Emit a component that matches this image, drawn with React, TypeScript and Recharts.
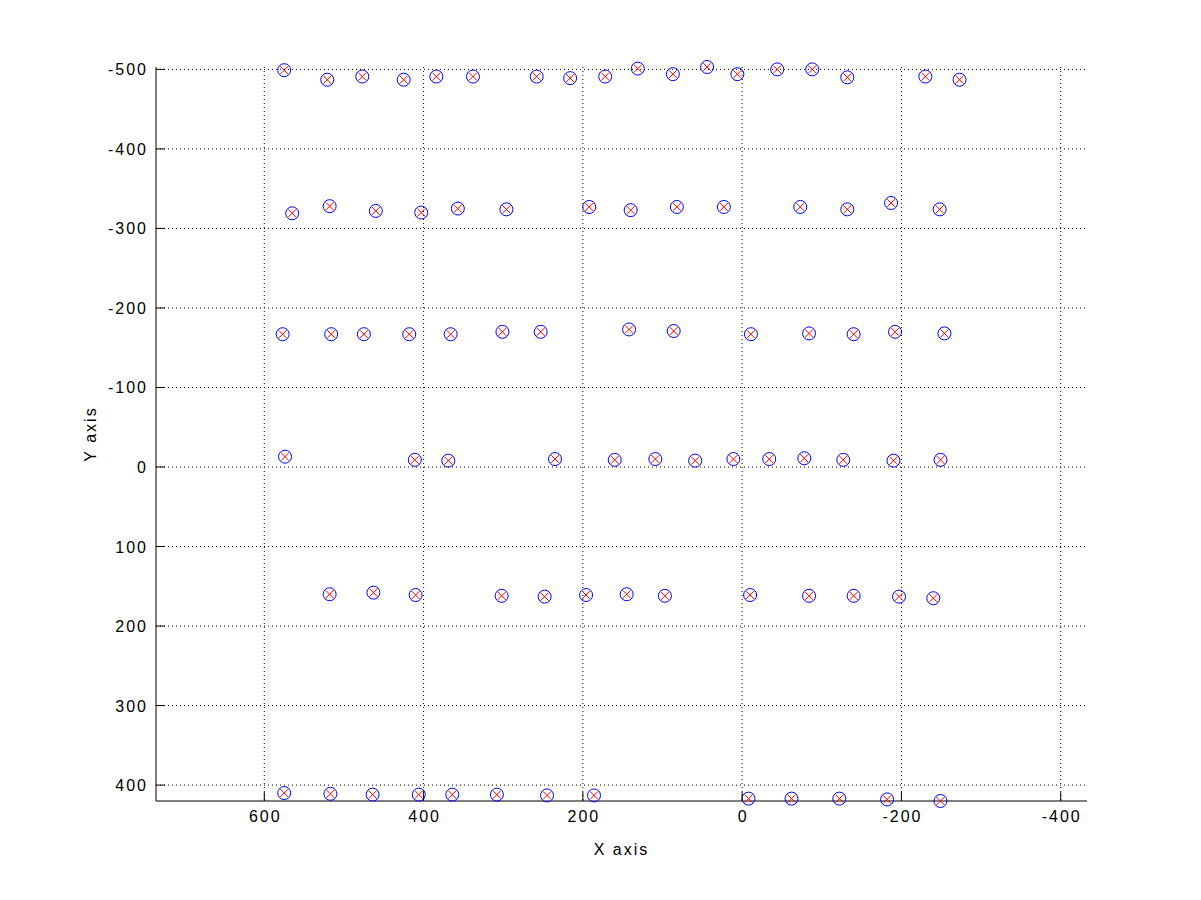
import React from "react";
import { ScatterChart, Scatter, XAxis, YAxis, CartesianGrid } from "recharts";

const row1X = [575, 521, 477, 425, 384, 338, 258, 216, 172, 131, 87, 44, 6, -44, -88, -132, -230, -273];
const row1Y = [-499, -487, -491, -487, -491, -491, -491, -489, -491, -501, -494, -503, -494, -500, -500, -490, -491, -487];
const row2X = [565, 518, 460, 403, 357, 296, 192, 140, 82, 23, -73, -132, -187, -248];
const row2Y = [-319, -328, -322, -320, -325, -324, -327, -323, -327, -327, -327, -324, -332, -324];
const row3X = [577, 516, 475, 418, 366, 301, 253, 142, 86, -11, -84, -140, -192, -254];
const row3Y = [-167, -167, -167, -167, -167, -170, -170, -173, -171, -167, -168, -167, -170, -168];
const row4X = [574, 411, 369, 235, 160, 109, 59, 11, -34, -78, -127, -190, -249];
const row4Y = [-13, -9, -8, -10, -9, -10, -8, -10, -10, -11, -9, -8, -9];
const row5X = [518, 463, 410, 302, 248, 196, 145, 97, -10, -84, -140, -197, -240];
const row5Y = [160, 158, 161, 162, 163, 161, 160, 162, 161, 162, 162, 163, 165];
const row6X = [575, 517, 464, 406, 364, 308, 245, 186, -8, -62, -122, -182, -249];
const row6Y = [410, 411, 412, 412, 412, 412, 413, 413, 417, 417, 417, 418, 420];

const xTicks = [-400, -200, 0, 200, 400, 600];
const yTicks = [-500, -400, -300, -200, -100, 0, 100, 200, 300, 400];
const xDomain = [-433, 736];
const yDomain = [-503, 420];

const allX = [...row1X, ...row2X, ...row3X, ...row4X, ...row5X, ...row6X];
const allY = [...row1Y, ...row2Y, ...row3Y, ...row4Y, ...row5Y, ...row6Y];
const data = allX.map((x, i) => ({ x, y: allY[i] }));

const FONT = "'Liberation Sans', Arial, Helvetica, sans-serif";
const FS = 16;
const LS = 2;

const CircleShape = (props: any) => {
  const { cx, cy } = props;
  if (cx == null || cy == null) return null;
  return <circle cx={cx} cy={cy} r={6.5} fill="none" stroke="#0000ff" strokeWidth={1} />;
};

const CrossShape = (props: any) => {
  const { cx, cy } = props;
  if (cx == null || cy == null) return null;
  const s = 4;
  return (
    <g stroke="#ff0000" strokeWidth={1}>
      <line x1={cx - s} y1={cy - s} x2={cx + s} y2={cy + s} />
      <line x1={cx - s} y1={cy + s} x2={cx + s} y2={cy - s} />
    </g>
  );
};

const XTick = (props: any) => {
  const { x, y, payload } = props;
  return (
    <g>
      <line x1={x} y1={y} x2={x} y2={y - 9} stroke="#000" strokeWidth={1} />
      <text x={x + LS / 2} y={y + 21} textAnchor="middle" fontSize={FS} letterSpacing={LS} fontFamily={FONT} fill="#000">
        {payload.value}
      </text>
    </g>
  );
};

const YTick = (props: any) => {
  const { x, y, payload } = props;
  return (
    <g>
      <line x1={x} y1={y} x2={x + 9} y2={y} stroke="#000" strokeWidth={1} />
      <text x={x - 8} y={y + 6} textAnchor="end" fontSize={FS} letterSpacing={LS} fontFamily={FONT} fill="#000">
        {payload.value}
      </text>
    </g>
  );
};

export default function App() {
  return (
    <div style={{ position: "absolute", left: 0, top: 0, width: 1201, height: 900, background: "#fff" }}>
      <ScatterChart width={1201} height={900} margin={{ top: 67, right: 114, bottom: 89, left: 146 }}>
        <CartesianGrid
          stroke="#000"
          strokeDasharray="1 3"
          horizontalValues={yTicks}
          verticalValues={xTicks}
        />
        <XAxis
          type="number"
          dataKey="x"
          domain={xDomain}
          ticks={xTicks}
          reversed
          height={10}
          tickSize={0}
          tickMargin={0}
          tickLine={false}
          tick={<XTick />}
          axisLine={{ stroke: "#000", strokeWidth: 1 }}
          label={{ value: "X axis", position: "insideBottom", offset: -44, fontSize: FS, letterSpacing: LS, fontFamily: FONT, fill: "#000" }}
        />
        <YAxis
          type="number"
          dataKey="y"
          domain={yDomain}
          ticks={yTicks}
          reversed
          width={10}
          tickSize={0}
          tickMargin={0}
          tickLine={false}
          tick={<YTick />}
          axisLine={{ stroke: "#000", strokeWidth: 1 }}
          label={{ value: "Y axis", angle: -90, position: "insideLeft", offset: -56, fontSize: FS, letterSpacing: LS, fontFamily: FONT, fill: "#000", style: { textAnchor: "middle" } }}
        />
        <Scatter data={data} shape={<CircleShape />} isAnimationActive={false} />
        <Scatter data={data} shape={<CrossShape />} isAnimationActive={false} />
      </ScatterChart>
    </div>
  );
}
